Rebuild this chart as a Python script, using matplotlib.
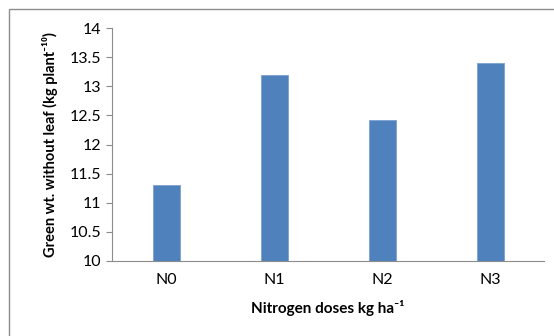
import matplotlib.pyplot as plt
from matplotlib.patches import Rectangle

# --- dati ---
doses = ["N0", "N1", "N2", "N3"]
green_wt = [11.3, 13.2, 12.42, 13.4]
y_ticks = [10, 10.5, 11, 11.5, 12, 12.5, 13, 13.5, 14]
y_tick_labels = ["10", "10.5", "11", "11.5", "12", "12.5", "13", "13.5", "14"]

plt.rcParams['font.family'] = ['Lato', 'DejaVu Sans']

fig = plt.figure(figsize=(5.54, 3.36), dpi=100)
ax = fig.add_axes([112 / 554, 1 - 261 / 336, 432 / 554, 233 / 336])

# cornice esterna del grafico
fig.patches.append(Rectangle((9 / 554, -0.05), 1.1, 1 - 9 / 336 + 0.05,
                             transform=fig.transFigure, fill=False,
                             edgecolor='#8c8c8c', linewidth=1.0))

x = range(len(doses))
ax.bar(x, green_wt, width=0.25, color='#4f81bd', edgecolor='#7ba0cf', linewidth=0.6, zorder=2)

ax.set_xlim(-0.5, len(doses) - 0.5)
ax.set_ylim(10, 14)
ax.set_xticks(list(x))
ax.set_xticklabels(doses, fontsize=11.5)
ax.set_yticks(y_ticks)
ax.set_yticklabels(y_tick_labels, fontsize=11.5)
ax.tick_params(axis='x', length=0, pad=9)
ax.tick_params(axis='y', length=4, width=0.8, color='#8c8c8c', pad=4)

for side in ['top', 'right']:
    ax.spines[side].set_visible(False)
for side in ['left', 'bottom']:
    ax.spines[side].set_color('#8c8c8c')
    ax.spines[side].set_linewidth(0.8)

ax.set_xlabel('Nitrogen doses kg ha\u207b\u00b9', fontsize=11, fontweight='bold', labelpad=9)
ax.set_ylabel('Green wt. without leaf (kg plant\u207b\u00b9\u2070)', fontsize=10.5, fontweight='bold', labelpad=8)

plt.savefig('out.png', dpi=100)
plt.close()
